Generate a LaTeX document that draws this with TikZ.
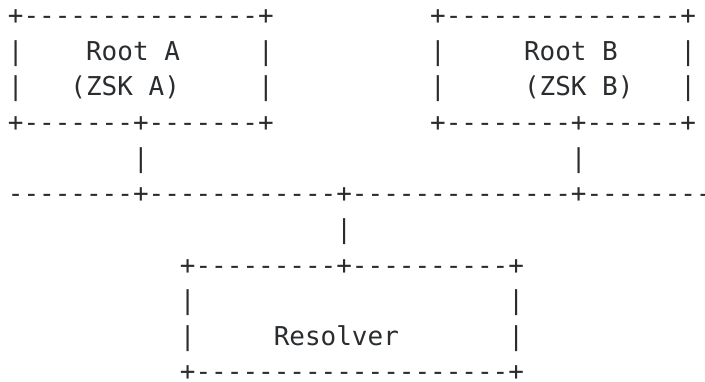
\documentclass[tikz,border=0pt]{standalone}
\usepackage{fontspec}
\setmonofont{DejaVu Sans Mono}
\definecolor{ink}{HTML}{2A2D30}
% one character cell: 15.64pt wide, rows 35.63pt apart
\newcommand\seg[4]{%
  \node[txt] (#1) at ({7.9pt+#2*15.64pt},{-24.6pt-#3*35.63pt}) {#4};}
\begin{document}
\begin{tikzpicture}[
  txt/.style={anchor=base west, inner sep=0pt, outer sep=0pt, text=ink,
    font=\ttfamily\fontsize{25.98}{30}\selectfont}]
\useasboundingbox (0,0) rectangle (705pt,-381pt);
% Root A box
\seg{ratop}{0}{0}{+---------------+}
\seg{ral1}{0}{1}{|}
\seg{raname}{5}{1}{Root A}
\seg{rar1}{16}{1}{|}
\seg{ral2}{0}{2}{|}
\seg{razsk}{4}{2}{(ZSK A)}
\seg{rar2}{16}{2}{|}
\seg{rabot}{0}{3}{+-------+-------+}
% Root B box
\seg{rbtop}{27}{0}{+---------------+}
\seg{rbl1}{27}{1}{|}
\seg{rbname}{33}{1}{Root B}
\seg{rbr1}{43}{1}{|}
\seg{rbl2}{27}{2}{|}
\seg{rbzsk}{33}{2}{(ZSK B)}
\seg{rbr2}{43}{2}{|}
\seg{rbbot}{27}{3}{+--------+------+}
% links down to the shared line
\seg{lnka}{8}{4}{|}
\seg{lnkb}{36}{4}{|}
\seg{bus}{0}{5}{--------+------------+--------------+--------}
\seg{lnkr}{21}{6}{|}
% Resolver box
\seg{restop}{11}{7}{+---------+----------+}
\seg{resl1}{11}{8}{|}
\seg{resr1}{32}{8}{|}
\seg{resl2}{11}{9}{|}
\seg{resname}{17}{9}{Resolver}
\seg{resr2}{32}{9}{|}
\seg{resbot}{11}{10}{+--------------------+}
\end{tikzpicture}
\end{document}
